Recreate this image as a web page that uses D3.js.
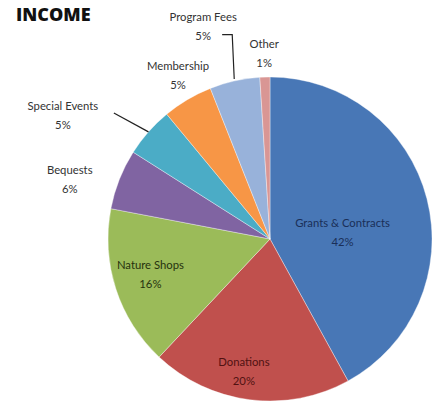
<!DOCTYPE html>
<html>
<head>
<meta charset="utf-8">
<script src="https://cdn.jsdelivr.net/npm/d3@7"></script>
<style>
  body { margin: 0; background: #fff; }
  svg { display: block; }
  .lbl { font-family: Lato, "Open Sans", sans-serif; font-size: 11.3px; }
  .title { font-family: "Open Sans", Lato, sans-serif; font-weight: 800; font-size: 18px; fill: #111; }
</style>
</head>
<body>
<div id="chart"></div>
<script>
// income share by source, clockwise from 12 o'clock
var categories = ['Grants & Contracts', 'Donations', 'Nature Shops', 'Bequests',
  'Special Events', 'Membership', 'Program Fees', 'Other'];
var values = [42, 20, 16, 6, 5, 5, 5, 1];
var colors = ['#4877b6', '#c0504d', '#9bbb59', '#8064a2', '#4bacc6', '#f79646', '#98b2da', '#d99694'];
var textColors = ['#1a2f58', '#501212', '#26330e', '#333', '#333', '#333', '#333', '#333'];

// label placement: radius as a share of the pie radius, angle shift in degrees
var labelRadius = [0.45, 0.83, 0.77, 1.29, 1.49, 1.16, 1.38, 1.15];
var labelShift = [9, 4, 1.5, -5, -10.5, 1.3, -4.8, 0];

var width = 439, height = 403;
var cx = 270, cy = 239, radius = 162;

var svg = d3.select('#chart').append('svg')
  .attr('width', width)
  .attr('height', height);

svg.append('text')
  .attr('class', 'title')
  .attr('x', 16)
  .attr('y', 21)
  .text('INCOME');

var pie = d3.pie().sort(null).value(function(d) { return d; });
var arcs = pie(values);
var arc = d3.arc().innerRadius(0).outerRadius(radius);

var g = svg.append('g').attr('transform', 'translate(' + cx + ',' + cy + ')');

g.selectAll('path.slice')
  .data(arcs)
  .enter().append('path')
    .attr('class', 'slice')
    .attr('d', arc)
    .attr('fill', function(d, i) { return colors[i]; })
    .attr('stroke', 'rgba(255,255,255,0.45)')
    .attr('stroke-width', 0.8);

function midAngle(d) { return (d.startAngle + d.endAngle) / 2; }
function polar(a, r) { return [Math.sin(a) * r, -Math.cos(a) * r]; }

var labelPos = arcs.map(function(d, i) {
  var a = midAngle(d) + labelShift[i] * Math.PI / 180;
  return polar(a, labelRadius[i] * radius);
});

var labels = g.selectAll('text.lbl')
  .data(arcs)
  .enter().append('text')
    .attr('class', 'lbl')
    .attr('text-anchor', 'middle')
    .attr('fill', function(d, i) { return textColors[i]; })
    .attr('transform', function(d, i) { return 'translate(' + labelPos[i][0] + ',' + labelPos[i][1] + ')'; });

labels.append('tspan')
  .attr('x', 0)
  .attr('y', -5)
  .text(function(d, i) { return categories[i]; });
labels.append('tspan')
  .attr('x', 0)
  .attr('y', 14)
  .text(function(d, i) { return d3.format('.0f')(values[i]) + '%'; });

// leader lines for the two labels that sit far from their slice
var lineGen = d3.line();
var se = arcs[4], pf = arcs[6];
var seEdge = polar(midAngle(se), radius);
var seStart = [labelPos[4][0] + 51, labelPos[4][1] - 2];
g.append('path')
  .attr('d', lineGen([seStart, seEdge]))
  .attr('fill', 'none')
  .attr('stroke', '#222')
  .attr('stroke-width', 1.2);

var pfEdge = polar(midAngle(pf), radius + 2);
var pfY = labelPos[6][1] + 9;
g.append('path')
  .attr('d', lineGen([[labelPos[6][0] + 19, pfY], [pfEdge[0] - 2, pfY], pfEdge]))
  .attr('fill', 'none')
  .attr('stroke', '#222')
  .attr('stroke-width', 1.2);
</script>
</body>
</html>
